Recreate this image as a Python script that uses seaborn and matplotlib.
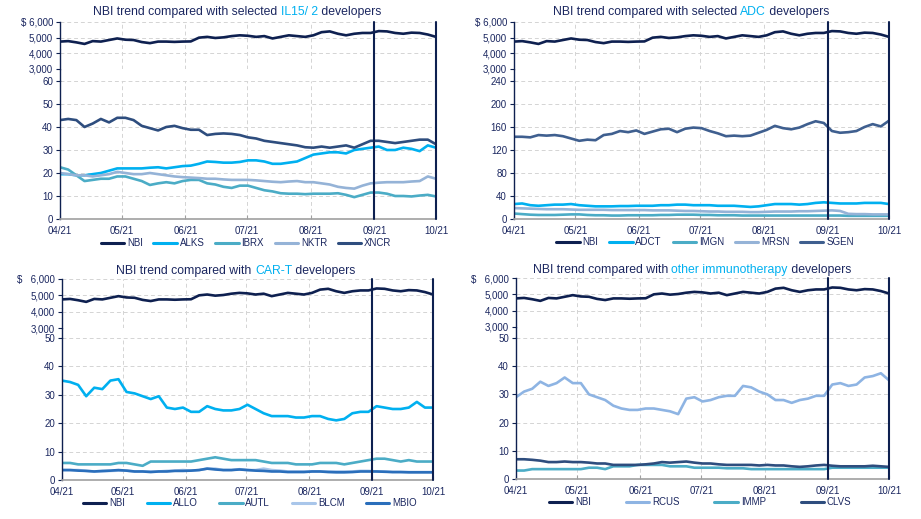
import numpy as np
import pandas as pd
import matplotlib
matplotlib.use("Agg")
import matplotlib.pyplot as plt
import matplotlib.dates as mdates
import matplotlib.transforms as mtrans
from matplotlib.lines import Line2D
import seaborn as sns

# ---------------- data ----------------
dates = pd.date_range("2021-04-01", "2021-10-01", periods=47)

NBI = [4750, 4780, 4700, 4600, 4780, 4750, 4850, 4950, 4870, 4850,
       4720, 4650, 4750, 4750, 4730, 4750, 4760, 5000, 5050, 4980,
       5020, 5100, 5150, 5120, 5050, 5100, 4950, 5050, 5150, 5100,
       5050, 5150, 5350, 5400, 5250, 5150, 5250, 5300, 5300, 5420,
       5400, 5300, 5250, 5320, 5300, 5200, 5050]

ALKS = [19.5, 19.5, 19, 19, 19.5, 20, 21, 22, 22, 22,
        22, 22.3, 22.5, 22, 22.5, 23, 23.2, 24, 25, 24.8,
        24.5, 24.5, 24.8, 25.5, 25.5, 25, 24, 24, 24.5, 25,
        26.5, 28, 28.5, 29, 29, 28.5, 30, 30.5, 31, 31.5,
        30, 30, 31, 30.5, 29.5, 32, 31]
IBRX = [22.5, 21.5, 19, 16.5, 17, 17.5, 17.5, 18.5, 18.5, 17.5,
        16.5, 14.8, 15.5, 16, 15.5, 16.5, 17, 17, 15.5, 15,
        14, 13.5, 14.5, 14.5, 13.5, 12.5, 12, 11.2, 11, 11,
        10.8, 11, 11, 11, 11.2, 10.5, 9.5, 10.5, 11.5, 11.5,
        11, 10, 10, 9.8, 10.2, 10.5, 9.8]
NKTR = [20, 19.5, 19, 19, 18.5, 19, 19.5, 20.5, 20, 19.5,
        19.5, 20, 19.5, 19, 18.5, 18.2, 18, 17.8, 17.5, 17.5,
        17.2, 17, 17, 17, 16.8, 16.5, 16.2, 16, 16.3, 16.5,
        16, 16, 15.5, 15, 14, 13.5, 13.2, 14.5, 15.5, 15.8,
        16, 16, 16, 16.3, 16.5, 18.5, 17.5]
XNCR = [43, 43.5, 43, 40, 41.5, 43.5, 42, 44, 44, 43,
        40.5, 39.5, 38.5, 40, 40.5, 39.5, 38.8, 38.8, 36.5, 37,
        37.2, 37, 36.5, 35.5, 35, 34, 33.5, 33, 32.5, 32,
        31.2, 31, 31.5, 31, 31.5, 32, 31, 32.5, 34, 34,
        33.5, 33, 33.5, 34, 34.5, 34.5, 32.5]

ADCT = [26, 27, 24, 23, 24, 25, 25, 26, 24, 23,
        22, 22, 22, 22.5, 22.5, 23, 23, 23, 24, 24,
        25, 25, 24, 24, 24, 23, 23, 23, 22, 21,
        22, 24, 26, 26, 26, 25, 26, 28, 29, 28,
        27, 27, 27, 28, 28, 28, 26]
IMGN = [9.5, 8.5, 7.5, 7, 7, 7, 7.5, 8, 8, 7,
        6.5, 6.5, 6, 6, 6.5, 6.5, 6.5, 6.5, 7, 7,
        7.5, 7.5, 7.5, 7, 7, 6.5, 6.5, 6.5, 6, 6,
        6, 6, 6, 6, 6, 6, 6, 6, 6, 6,
        6, 5.5, 5.5, 5.5, 5.5, 5.5, 5.5]
MRSN = [19, 18.5, 18, 17.5, 17, 17, 17, 16.5, 16, 16,
        16, 16, 15.5, 15.5, 15.5, 15.5, 15.5, 15, 15, 15,
        14.5, 14, 14, 13.5, 13, 13, 12.5, 12.5, 12.5, 12,
        12, 12.5, 13, 13, 13, 13.5, 13.5, 14, 14.5, 15,
        14, 9, 8.5, 8.5, 8, 8, 8]
SGEN = [143, 143, 142, 146, 145, 146, 144, 140, 136, 138,
        137, 146, 148, 153, 151, 154, 148, 152, 156, 157,
        151, 157, 159, 158, 153, 149, 144, 145, 144, 145,
        150, 155, 162, 158, 156, 159, 165, 170, 167, 153,
        150, 151, 153, 160, 165, 161, 171]

ALLO = [35, 34.5, 33.5, 29.5, 32.5, 32, 35, 35.5, 31, 30.5,
        29.5, 28.5, 29.5, 25.5, 25, 25.5, 24, 24, 26, 25,
        24.5, 24.5, 25, 26.5, 25, 23.5, 22.5, 22.5, 22.5, 22,
        22, 22.5, 22.5, 21.5, 21, 21.5, 23.5, 24, 24, 26,
        25.5, 25, 25, 25.5, 27.5, 25.5, 25.5]
AUTL = [6, 6, 5.5, 5.5, 5.5, 5.5, 5.5, 6, 6, 5.5,
        5, 6.5, 6.5, 6.5, 6.5, 6.5, 6.5, 7, 7.5, 8,
        7.5, 7, 7, 7, 7, 6.5, 6, 6, 6, 5.5,
        5.5, 5.5, 6, 6, 6, 5.5, 6, 6.5, 7, 7.5,
        7.5, 7, 6.5, 7, 6.5, 6.5, 6.5]
BLCM = [3.5, 3.5, 3.5, 3.2, 3, 3, 3.2, 3.3, 3.3, 3,
        3, 3, 3, 3.2, 3.3, 3.5, 3.3, 3.5, 4, 4,
        3.5, 3.5, 3.8, 3.5, 3.5, 4, 3.5, 3.3, 3, 3,
        3, 3, 3, 3, 3, 3, 3, 3.2, 3.2, 3,
        3, 2.8, 2.8, 2.8, 2.8, 2.8, 2.8]
MBIO = [3.5, 3.5, 3.3, 3.2, 3, 3.2, 3.3, 3.5, 3.3, 3,
        3, 2.8, 3, 3, 3.2, 3.2, 3.3, 3.5, 4, 3.7,
        3.5, 3.5, 3.7, 3.5, 3.3, 3.2, 3, 3, 2.8, 2.8,
        2.8, 3, 3, 2.8, 2.7, 2.7, 2.8, 3, 3, 3,
        2.9, 2.8, 2.8, 2.7, 2.7, 2.7, 2.7]

RCUS = [29, 31, 32, 34.5, 33, 34, 36, 34, 34, 30,
        29, 28, 26, 25, 24.5, 24.5, 25, 25, 24.5, 24,
        23, 28.5, 29, 27.5, 28, 29, 29.5, 29.5, 33, 32.5,
        31, 30, 28, 28, 27, 28, 28.5, 29.5, 29.5, 33.5,
        34, 33, 33.5, 36, 36.5, 37.5, 35]
IMMP = [3, 3, 3.5, 3.5, 3.5, 3.5, 3.5, 3.5, 3.5, 4,
        4, 3.5, 4.5, 4.5, 4.5, 5, 5, 5, 5, 4.5,
        4.5, 4.5, 4, 4, 4, 4, 3.8, 3.8, 3.8, 3.5,
        3.5, 3.5, 3.5, 3.5, 3.5, 3.5, 3.5, 3.5, 3.5, 4,
        4, 4, 4, 4, 4, 4, 4]
CLVS = [7, 7, 6.8, 6.5, 6, 6, 6.2, 6, 6, 5.8,
        5.5, 5.5, 5, 5, 5, 5, 5.2, 5.5, 6, 5.8,
        6, 6.2, 5.8, 5.5, 5.5, 5.2, 5, 5, 5, 5,
        4.8, 5, 4.8, 4.8, 4.5, 4.3, 4.5, 4.8, 5, 4.7,
        4.5, 4.5, 4.5, 4.5, 4.7, 4.5, 4.3]

# ---------------- style ----------------
NBI_C = "#0E2050"
CYAN = "#00B0F0"
TEAL = "#4BACC6"
LIGHT = "#95B3D7"
SLATE = "#2E4D7E"
MID = "#2A6EBB"
TXT = "#1B2760"
GRID = "#D4D4D4"
AXG = "#A0A0A0"

W, H = 921, 519
sns.set_theme(style="white")
plt.rcParams["font.family"] = ["Liberation Sans", "DejaVu Sans"]

fig = plt.figure(figsize=(W / 100, H / 100), dpi=100)
fig.patch.set_facecolor("white")


def px_axes(l, r, t, b):
    return fig.add_axes([l / W, 1 - b / H, (r - l) / W, (b - t) / H])


def style_axes(ax, bottom_spine):
    ax.set_facecolor("white")
    ax.set_xlim(pd.Timestamp("2021-04-01"), pd.Timestamp("2021-10-01"))
    ax.xaxis.set_major_locator(mdates.MonthLocator())
    ax.xaxis.set_major_formatter(mdates.DateFormatter("%m/%y"))
    ax.grid(True, color=GRID, ls=(0, (4, 3)), lw=0.7)
    ax.set_axisbelow(True)
    for s in ["top", "right"]:
        ax.spines[s].set_visible(False)
    ax.spines["left"].set_color(NBI_C)
    ax.spines["left"].set_linewidth(1.0)
    if bottom_spine:
        ax.spines["bottom"].set_color(AXG)
        ax.spines["bottom"].set_linewidth(1.2)
        ax.tick_params(axis="x", bottom=True, direction="in", length=3,
                       width=0.8, color=AXG, labelsize=7, labelcolor=TXT,
                       pad=5)
    else:
        ax.spines["bottom"].set_visible(False)
        ax.tick_params(axis="x", bottom=False, length=0, labelbottom=False)
    ax.tick_params(axis="y", left=True, length=3, width=0.8, color=NBI_C,
                   labelsize=7, labelcolor=TXT, pad=2)
    ax.set_xlabel("")
    ax.set_ylabel("")


def color_title(parts, cx, cy, size=8.8):
    r = fig.canvas.get_renderer()
    texts, widths = [], []
    for s, c in parts:
        t = fig.text(0, 0, s, color=c, fontsize=size, va="center", ha="left")
        texts.append(t)
        widths.append(t.get_window_extent(r).width)
    x = cx - sum(widths) / 2
    for t, w in zip(texts, widths):
        t.set_position((x / W, 1 - cy / H))
        x += w


def panel(box, names, values, colors, ymax, ystep, title_parts, title_xy,
          legend_x, legend_y, colspace, dollar):
    l, r, tt, tb, bt, bb = box
    ax_t = px_axes(l, r, tt, tb)
    ax_b = px_axes(l, r, bt, bb)

    sns.lineplot(x=dates, y=NBI, ax=ax_t, color=NBI_C, lw=1.9)
    df = pd.DataFrame({
        "date": np.tile(dates, len(names)),
        "value": np.concatenate([np.asarray(v, float) for v in values]),
        "ticker": np.repeat(names, len(dates)),
    })
    sns.lineplot(data=df, x="date", y="value", hue="ticker", hue_order=names,
                 palette=dict(zip(names, colors)), ax=ax_b, lw=1.9,
                 legend=False)

    style_axes(ax_t, False)
    style_axes(ax_b, True)
    ax_t.set_ylim(3000, 6000)
    ax_t.set_yticks([3000, 4000, 5000, 6000])
    ax_t.set_yticklabels(["3,000", "4,000", "5,000", dollar + "6,000"])
    ax_b.set_ylim(0, ymax)
    ax_b.set_yticks(np.arange(0, ymax + 1, ystep))

    # continuous left axis line through the gap
    fig.add_artist(Line2D([l / W, l / W], [1 - tb / H, 1 - bt / H],
                          transform=fig.transFigure, color=NBI_C, lw=1.0))
    # vertical markers at 09/21 and 10/21 through both parts
    tr = mtrans.blended_transform_factory(ax_b.transData, fig.transFigure)
    for d in [pd.Timestamp("2021-09-01"), pd.Timestamp("2021-10-01")]:
        xd = mdates.date2num(d)
        fig.add_artist(Line2D([xd, xd], [1 - bb / H, 1 - tt / H],
                              transform=tr, color=NBI_C, lw=1.5,
                              clip_on=False, zorder=5))

    color_title(title_parts, *title_xy)

    handles = [Line2D([], [], color=NBI_C, lw=2.2)] + \
              [Line2D([], [], color=c, lw=2.2) for c in colors]
    labels = ["NBI"] + list(names)
    ax_b.legend(handles, labels, loc="center",
                bbox_to_anchor=(legend_x / W, 1 - legend_y / H),
                bbox_transform=fig.transFigure, ncol=len(labels),
                frameon=False, fontsize=7, handlelength=2.4,
                handletextpad=0.3, columnspacing=colspace, labelcolor=TXT,
                borderpad=0)


panel((60, 436, 22, 69, 81, 219),
      ["ALKS", "IBRX", "NKTR", "XNCR"], [ALKS, IBRX, NKTR, XNCR],
      [CYAN, TEAL, LIGHT, SLATE], 60, 10,
      [("NBI trend compared with selected ", TXT), ("IL15/ 2", CYAN),
       (" developers", TXT)], (237, 12), 246, 243, 1.1, "$ ")

panel((514, 889, 22, 69, 81, 219),
      ["ADCT", "IMGN", "MRSN", "SGEN"], [ADCT, IMGN, MRSN, SGEN],
      [CYAN, TEAL, LIGHT, "#3F5F8F"], 240, 40,
      [("NBI trend compared with selected ", TXT), ("ADC", CYAN),
       (" developers", TXT)], (691, 12), 705, 242, 1.1, "$ ")

panel((62, 433, 279, 328, 338, 480),
      ["ALLO", "AUTL", "BLCM", "MBIO"], [ALLO, AUTL, BLCM, MBIO],
      [CYAN, TEAL, "#A9C6EA", MID], 50, 10,
      [("NBI trend compared with ", TXT), ("CAR-T", CYAN),
       (" developers", TXT)], (236, 271), 250, 503, 2.2, "$   ")

panel((516, 889, 278, 327, 338, 479),
      ["RCUS", "IMMP", "CLVS"], [RCUS, IMMP, CLVS],
      ["#8EB4E3", TEAL, SLATE], 50, 10,
      [("NBI trend compared with ", TXT), ("other immunotherapy", CYAN),
       (" developers", TXT)], (692, 270), 700, 502, 3.6, "$   ")

fig.savefig("out.png", dpi=100, facecolor="white")
